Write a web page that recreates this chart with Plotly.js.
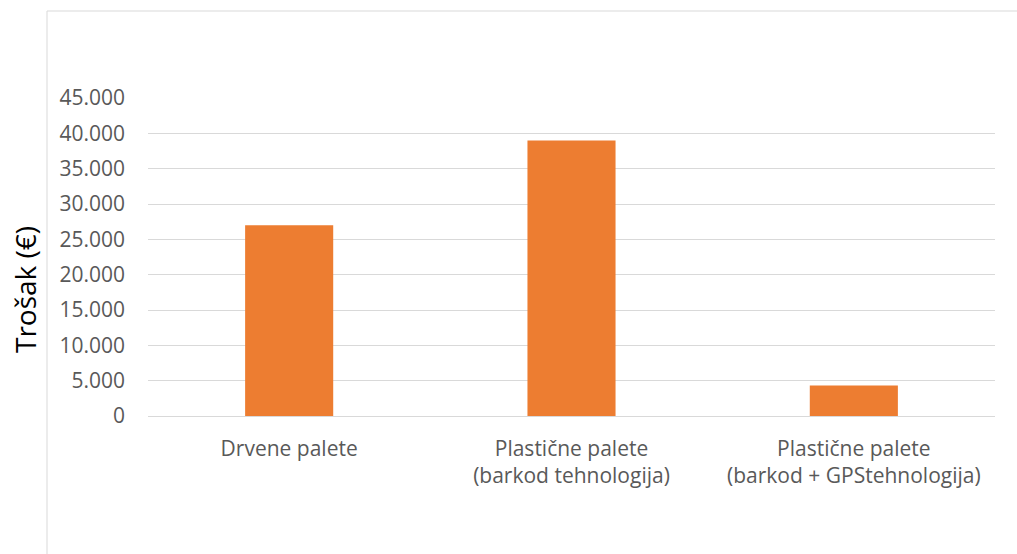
<!DOCTYPE html>
<html>
<head>
<meta charset="utf-8">
<script src="https://cdn.plot.ly/plotly-3.0.1.min.js"></script>
<style>html,body{margin:0;padding:0;background:#fff;}#chart{width:1017px;height:554px;}</style>
</head>
<body>
<div id="chart"></div>
<script>
const categories = ["Drvene palete", "Plastične palete<br>(barkod tehnologija)", "Plastične palete<br>(barkod + GPStehnologija)"];
const costs = [27000, 39000, 4300];
const yTicks = [0, 5000, 10000, 15000, 20000, 25000, 30000, 35000, 40000, 45000];
const yTitle = 'Trošak (€)';

const pl = 148, pr = 995, pt = 98, pb = 416;
const pw = pr - pl, ph = pb - pt;
const px = v => (v - pl) / pw;
const py = v => (pb - v) / ph;

const trace = {
  type: 'bar',
  x: categories,
  y: costs,
  marker: {color: '#ed7d31'},
  hoverinfo: 'skip'
};

const layout = {
  width: 1017, height: 554,
  margin: {l: pl, r: 1017 - pr, t: pt, b: 554 - pb},
  paper_bgcolor: '#ffffff', plot_bgcolor: '#ffffff',
  separators: ',.',
  bargap: 0.688,
  showlegend: false,
  font: {family: 'Open Sans, sans-serif', color: '#595959', size: 21},
  xaxis: {
    showgrid: false, zeroline: false, showline: false,
    ticks: '', tickfont: {size: 21, color: '#595959'},
    ticklabelstandoff: 18
  },
  yaxis: {
    range: [0, 45000], tickvals: yTicks, tickformat: ',d',
    showgrid: true, gridcolor: '#d9d9d9', gridwidth: 1,
    zeroline: true, zerolinecolor: '#d9d9d9', zerolinewidth: 1,
    showline: false, ticks: '',
    tickfont: {size: 21, color: '#595959'},
    ticklabelstandoff: 22
  },
  annotations: [
    {text: yTitle, xref: 'paper', yref: 'paper', x: px(25), y: py(290),
     xanchor: 'center', yanchor: 'middle', textangle: -90, showarrow: false,
     font: {size: 28, color: '#000000', family: 'Open Sans, sans-serif'}}
  ],
  shapes: [
    {type: 'line', xref: 'paper', yref: 'paper', x0: px(47), x1: px(47), y0: py(11), y1: py(560), line: {color: '#d9d9d9', width: 1}},
    {type: 'line', xref: 'paper', yref: 'paper', x0: px(47), x1: px(1020), y0: py(11), y1: py(11), line: {color: '#d9d9d9', width: 1}}
  ]
};

Plotly.newPlot('chart', [trace], layout, {displayModeBar: false, staticPlot: true});
</script>
</body>
</html>
